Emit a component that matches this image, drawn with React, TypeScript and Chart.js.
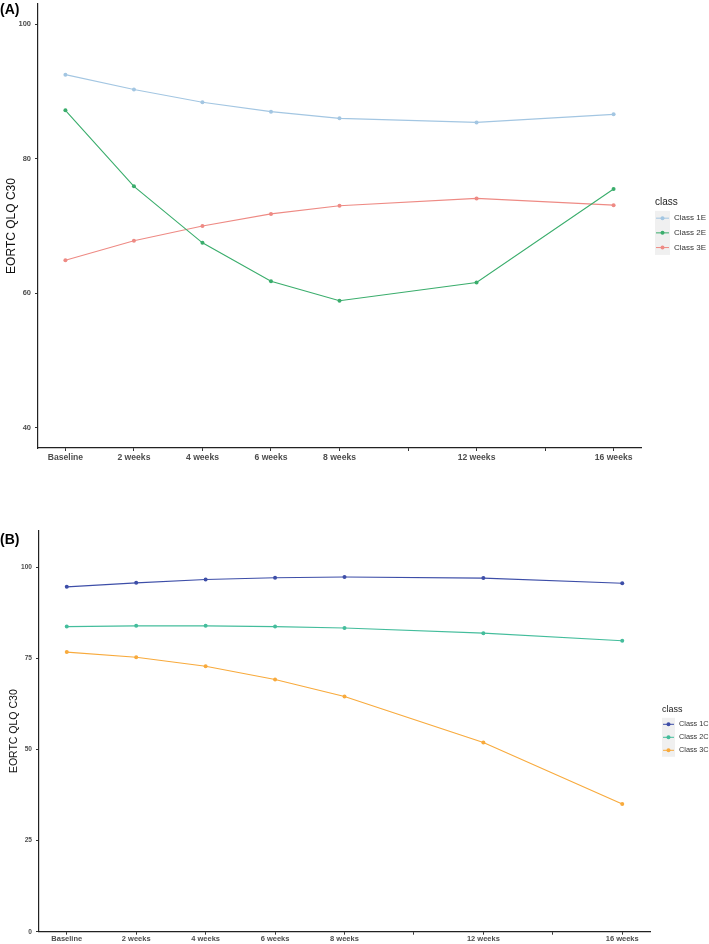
import { Chart, registerables } from "chart.js";
import type { ChartConfiguration, Plugin as ChartPlugin, Scale } from "chart.js";
import { useEffect, useRef } from "react";

Chart.register(...registerables);

// weeks since baseline, x positions of the measured visits
const visitWeeks = [0, 2, 4, 6, 8, 12, 16];
// every axis tick (10 and 14 have a tick mark but no label)
const xTickWeeks = [0, 2, 4, 6, 8, 10, 12, 14, 16];
const xTickLabels = ["Baseline", "2 weeks", "4 weeks", "6 weeks", "8 weeks", "", "12 weeks", "", "16 weeks"];

// Panel A
const classNamesA = ["Class 1E", "Class 2E", "Class 3E"];
const class1E = [92.5, 90.3, 88.4, 87.0, 86.0, 85.4, 86.6];
const class2E = [87.2, 75.9, 67.5, 61.8, 58.9, 61.6, 75.5];
const class3E = [64.9, 67.8, 70.0, 71.8, 73.0, 74.1, 73.1];
const yTicksA = [40, 60, 80, 100];

// Panel B
const classNamesB = ["Class 1C", "Class 2C", "Class 3C"];
const class1C = [94.6, 95.7, 96.6, 97.1, 97.3, 97.0, 95.6];
const class2C = [83.7, 83.9, 83.9, 83.7, 83.3, 81.9, 79.8];
const class3C = [76.7, 75.3, 72.8, 69.2, 64.5, 51.9, 35.0];
const yTicksB = [0, 25, 50, 75, 100];

const coloursA = ["#a3c6e2", "#3aad6c", "#ee8a84"];
const coloursB = ["#3d4ea8", "#44bd9c", "#f8aa3c"];

const FONT = "'Liberation Sans', Arial, sans-serif";

type PanelOpts = {
    tag: string,
    names: string[],
    series: number[][],
    colours: string[],
    yTicks: number[],
    yMin: number,
    yMax: number,
    width: number,
    height: number,
    padTop: number,
    yAxisWidth: number,
    xAxisHeight: number,
    padRight: number,
    tagY: number,
    xFont: number,
    yFont: number,
    titleFont: number,
    titlePad: number,
    xTickPad: number,
    legend: { x: number, y: number, titleSize: number, itemSize: number, rowH: number, keyW: number, textX: number },
};

function makePlugin(o: PanelOpts): ChartPlugin {
    return {
        id: "panelDecor",
        afterDraw: (chart: Chart) => {
            const ctx = chart.ctx;
            ctx.save();
            // panel tag
            ctx.fillStyle = "#000";
            ctx.font = `bold 14px ${FONT}`;
            ctx.textBaseline = "middle";
            ctx.textAlign = "left";
            ctx.fillText(o.tag, 0, o.tagY);

            // legend
            const lg = o.legend;
            ctx.fillStyle = "#222";
            ctx.font = `${lg.titleSize}px ${FONT}`;
            ctx.fillText("class", lg.x, lg.y);
            const top = lg.y + lg.rowH * 0.6;
            ctx.fillStyle = "#f0f0f0";
            ctx.fillRect(lg.x, top, lg.keyW, lg.rowH * o.names.length);
            o.names.forEach((name, i) => {
                const cy = top + lg.rowH * (i + 0.5);
                const col = chart.data.datasets[i].borderColor as string;
                ctx.strokeStyle = col;
                ctx.lineWidth = 1;
                ctx.beginPath();
                ctx.moveTo(lg.x + 1, cy);
                ctx.lineTo(lg.x + lg.keyW - 1, cy);
                ctx.stroke();
                ctx.fillStyle = col;
                ctx.beginPath();
                ctx.arc(lg.x + lg.keyW / 2, cy, 2, 0, Math.PI * 2);
                ctx.fill();
                ctx.fillStyle = "#333";
                ctx.font = `${lg.itemSize}px ${FONT}`;
                ctx.fillText(name, lg.textX, cy);
            });
            ctx.restore();
        }
    };
}

function getConfig(o: PanelOpts): ChartConfiguration {
    return {
        type: "line",
        data: {
            datasets: o.series.map((vals, i) => ({
                label: o.names[i],
                data: visitWeeks.map((w, j) => ({ x: w, y: vals[j] })),
                borderColor: o.colours[i],
                backgroundColor: o.colours[i],
                borderWidth: 1.1,
                pointRadius: 2,
                pointBorderWidth: 0,
                tension: 0,
                fill: false,
            }))
        },
        options: {
            responsive: false,
            animation: false,
            events: [],
            layout: { padding: { top: o.padTop, right: o.padRight, left: 0, bottom: 0 } },
            scales: {
                x: {
                    type: "linear",
                    min: -0.8,
                    max: 16.8,
                    afterBuildTicks: (scale: Scale) => {
                        scale.ticks = xTickWeeks.map((v) => ({ value: v }));
                    },
                    afterFit: (scale: Scale) => {
                        scale.height = o.xAxisHeight;
                        scale.paddingLeft = 0;
                        scale.paddingRight = 0;
                    },
                    ticks: {
                        autoSkip: false,
                        maxRotation: 0,
                        padding: o.xTickPad,
                        color: "#4d4d4d",
                        font: { family: FONT, size: o.xFont, weight: "bold" },
                        callback: (v) => {
                            const idx = xTickWeeks.indexOf(Number(v));
                            return idx >= 0 ? xTickLabels[idx] : "";
                        }
                    },
                    grid: { display: true, drawOnChartArea: false, drawTicks: true, tickLength: 3, color: "#333" },
                    border: { display: true, color: "#222", width: 1.2 },
                },
                y: {
                    type: "linear",
                    min: o.yMin,
                    max: o.yMax,
                    afterBuildTicks: (scale: Scale) => {
                        scale.ticks = o.yTicks.map((v) => ({ value: v }));
                    },
                    afterFit: (scale: Scale) => {
                        scale.width = o.yAxisWidth;
                        scale.paddingTop = 0;
                        scale.paddingBottom = 0;
                    },
                    ticks: {
                        padding: 4,
                        color: "#4d4d4d",
                        font: { family: FONT, size: o.yFont, weight: "bold" },
                    },
                    grid: { display: true, drawOnChartArea: false, drawTicks: true, tickLength: 3, color: "#333" },
                    border: { display: true, color: "#222", width: 1.2 },
                    title: {
                        display: true,
                        text: "EORTC QLQ C30",
                        color: "#111",
                        padding: { top: o.titlePad, bottom: 0 },
                        font: { family: FONT, size: o.titleFont },
                    }
                }
            },
            plugins: {
                legend: { display: false },
                tooltip: { enabled: false },
            }
        },
        plugins: [makePlugin(o)]
    };
}

const Panel: React.FC<{ opts: PanelOpts, top: number }> = ({ opts, top }) => {
    const canvasRef = useRef<HTMLCanvasElement>(null);

    useEffect(() => {
        if (!canvasRef.current) {
            return;
        }
        const chart = new Chart(canvasRef.current, getConfig(opts));
        return () => {
            chart.destroy();
        };
    }, [opts]);

    return (
        <canvas
            ref={canvasRef}
            width={opts.width}
            height={opts.height}
            style={{ position: "absolute", left: 0, top: top, width: opts.width, height: opts.height }}
        />
    );
}

const panelA: PanelOpts = {
    tag: "(A)",
    names: classNamesA,
    series: [class1E, class2E, class3E],
    colours: coloursA,
    yTicks: yTicksA,
    yMin: 37,
    yMax: 103,
    width: 709,
    height: 470,
    padTop: 3,
    yAxisWidth: 38,
    xAxisHeight: 22,
    padRight: 68,
    tagY: 10,
    xFont: 8.6,
    yFont: 7.5,
    titleFont: 12,
    titlePad: 4,
    xTickPad: 1,
    legend: { x: 655, y: 202, titleSize: 10, itemSize: 8, rowH: 14.7, keyW: 15, textX: 674 },
};

// panel B canvas starts at page y = 470, so its coordinates are relative to that
const panelB: PanelOpts = {
    tag: "(B)",
    names: classNamesB,
    series: [class1C, class2C, class3C],
    colours: coloursB,
    yTicks: yTicksB,
    yMin: 0,
    yMax: 110,
    width: 709,
    height: 474,
    padTop: 60.7,
    yAxisWidth: 39,
    xAxisHeight: 12.3,
    padRight: 59,
    tagY: 70,
    xFont: 7.5,
    yFont: 6.6,
    titleFont: 10.5,
    titlePad: 8,
    xTickPad: 0,
    legend: { x: 662, y: 240, titleSize: 9, itemSize: 7.3, rowH: 13, keyW: 13, textX: 679 },
};

export default function App() {
    return (
        <div style={{ position: "fixed", left: 0, top: 0, width: 709, height: 944, background: "#fff" }}>
            <Panel opts={panelA} top={0} />
            <Panel opts={panelB} top={470} />
        </div>
    );
}
